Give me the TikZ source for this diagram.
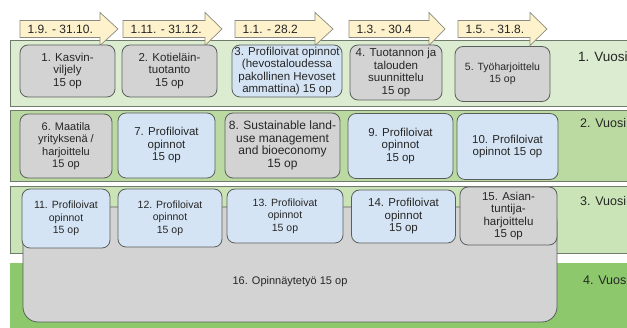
\documentclass[tikz,border=0pt]{standalone}
\usepackage{fontspec}
\setmainfont{Liberation Sans}
\definecolor{bandA}{HTML}{DCECD0}
\definecolor{bandB}{HTML}{BBDAA2}
\definecolor{bandC}{HTML}{CBE4B7}
\definecolor{bandD}{HTML}{8DC86C}
\definecolor{bandline}{HTML}{6F7A6C}
\definecolor{grayfill}{HTML}{D3D3D3}
\definecolor{bluefill}{HTML}{D5E4F4}
\definecolor{boxline}{HTML}{5A5E5A}
\definecolor{arrowfill}{HTML}{FDF2CB}
\definecolor{arrowline}{HTML}{8A8A80}
\tikzset{
  band/.style={draw=bandline, line width=0.8pt},
  course/.style={draw=boxline, line width=0.8pt, rounded corners=8pt, align=center,
    inner sep=1pt, font=\fontsize{11.5}{12.5}\selectfont, text=black!85},
  small/.style={font=\fontsize{10.5}{12.5}\selectfont},
  graybox/.style={course, fill=grayfill},
  bluebox/.style={course, fill=bluefill},
  period/.style={draw=arrowline, fill=arrowfill, line width=0.7pt, line join=miter},
  periodtext/.style={anchor=west, inner sep=0pt, font=\fontsize{12}{13}\selectfont, text=black!85},
  year/.style={anchor=west, inner sep=0pt, font=\fontsize{12.5}{13}\selectfont, text=black!85},
}
\begin{document}
\begin{tikzpicture}[x=1pt, y=-1pt]
\useasboundingbox (0,0) rectangle (627,328);
\clip (0,0) rectangle (627,328);
\fill[white] (0,0) rectangle (627,328);

% year bands
\draw[band, fill=bandA] (10,40) rectangle (660,106);
\draw[band, fill=bandB] (10,110) rectangle (660,181);
\draw[band, fill=bandC] (10,186) rectangle (660,253);
\fill[bandD] (10,263) rectangle (660,340);

% study periods
\foreach \x/\b/\t/\lab [count=\i] in {
    20/100/118/{1.9. - 31.10.},
    123/205/222/{1.11. - 31.12.},
    235/315/333/{1.1. - 28.2},
    349/429/445/{1.3. - 30.4},
    458/530/547/{1.5. - 31.8.}} {
  \draw[period] (\x,20.5) -- (\b,20.5) -- (\b,12.5) -- (\t,29) -- (\b,45.5)
    -- (\b,37.5) -- (\x,37.5) -- cycle;
  \node[periodtext] (p\i) at (\x+7.5,29) {\lab};
}

% year labels
\node[year, font=\fontsize{13.5}{14}\selectfont] (y1) at (578,57) {1. Vuosi};
\node[year] (y2) at (580,123) {2. Vuosi};
\node[year] (y3) at (580,201) {3. Vuosi};
\node[year] (y4) at (583,280) {4. Vuosi};

% year 1
\node[graybox, minimum width=95pt, minimum height=52pt] (c1) at (67.5,71) {1. Kasvin-\\viljely\\15 op};
\node[graybox, minimum width=95pt, minimum height=52pt] (c2) at (169.5,71) {2. Kotieläin-\\tuotanto\\15 op};
\node[bluebox, minimum width=110pt, minimum height=52pt] (c3) at (287,71) {3. Profiloivat opinnot\\(hevostaloudessa\\pakollinen Hevoset\\ammattina) 15 op};
\node[graybox, minimum width=92pt, minimum height=55pt] (c4) at (396,72.5) {4. Tuotannon ja\\talouden\\suunnittelu\\15 op};
\node[graybox, small, minimum width=95pt, minimum height=55pt] (c5) at (502.5,74) {5. Työharjoittelu\\15 op};

% year 2
\node[graybox, font=\fontsize{11}{12.5}\selectfont, minimum width=92pt, minimum height=64pt] (c6) at (66,146) {6. Maatila\\yrityksenä /\\harjoittelu\\15 op};
\node[bluebox, minimum width=97pt, minimum height=65pt] (c7) at (166.5,145.5) {7. Profiloivat\\opinnot\\15 op};
\node[graybox, font=\fontsize{12}{12.5}\selectfont, minimum width=115pt, minimum height=65pt] (c8) at (282.5,145.5) {8. Sustainable land-\\use management\\and bioeconomy\\15 op};
\node[bluebox, minimum width=105pt, minimum height=65pt] (c9) at (400.5,146) {9. Profiloivat\\opinnot\\15 op};
\node[bluebox, minimum width=101pt, minimum height=66pt] (c10) at (507.5,146.5) {10. Profiloivat\\opinnot 15 op};

% thesis spanning years 3 and 4
\node[graybox, rounded corners=15pt, minimum width=534pt, minimum height=115pt] (c16) at (290,264.5) {};
\node[inner sep=0pt, font=\fontsize{11}{12.5}\selectfont, text=black!85] (t16) at (290,282) {16. Opinnäytetyö 15 op};

% year 3
\node[bluebox, small, minimum width=88pt, minimum height=59pt] (c11) at (66,218.5) {11. Profiloivat\\opinnot\\15 op};
\node[bluebox, small, minimum width=104pt, minimum height=58pt] (c12) at (170,218) {12. Profiloivat\\opinnot\\15 op};
\node[bluebox, small, minimum width=116pt, minimum height=54pt] (c13) at (285,216) {13. Profiloivat\\opinnot\\15 op};
\node[bluebox, minimum width=104pt, minimum height=53pt] (c14) at (403.5,216.5) {14. Profiloivat\\opinnot\\15 op};
\node[graybox, minimum width=97pt, minimum height=58pt] (c15) at (508.5,216) {15. Asian-\\tuntija-\\harjoittelu\\15 op};
\end{tikzpicture}
\end{document}
